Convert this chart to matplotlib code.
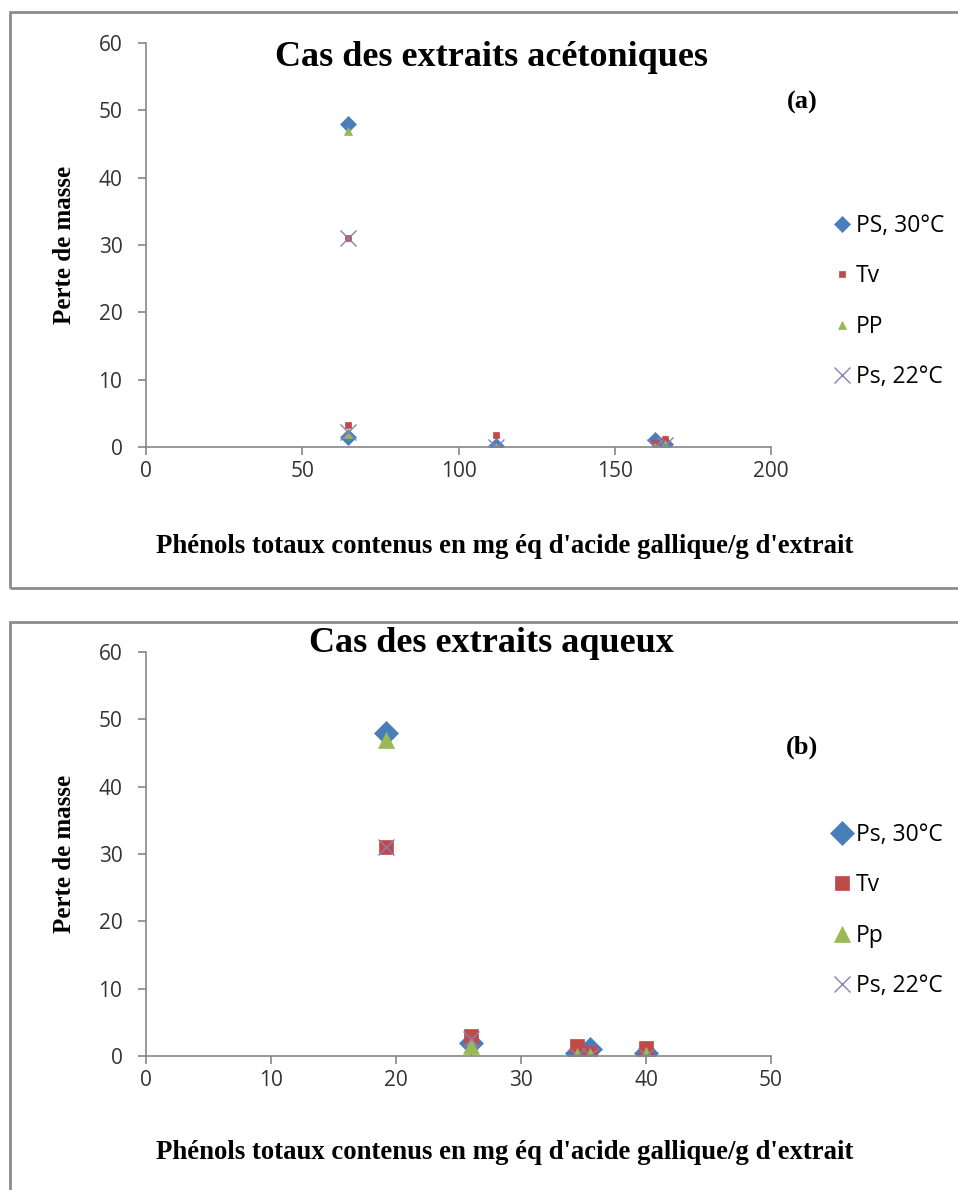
import matplotlib.pyplot as plt
from matplotlib.patches import Rectangle

# Panel (a): acetone extracts
x_a = [64.5, 64.5, 112, 163, 166]
ps30_a = [48, 1.5, 0.2, 1.0, 0.5]
tv_a = [31, 3.2, 1.8, 0.6, 1.2]
pp_a = [47, 2.0, 0.0, 0.0, 0.5]
ps22_a = [31, 2.2, 0.0, 0.0, 0.3]
labels_a = ["PS, 30°C", "Tv", "PP", "Ps, 22°C"]

# Panel (b): aqueous extracts
x_b = [19.2, 26, 34.5, 35.5, 40]
ps30_b = [48, 2.0, 0.5, 1.0, 0.5]
tv_b = [31, 3.0, 1.5, 0.5, 1.2]
pp_b = [47, 1.5, 0.0, 0.0, 0.2]
ps22_b = [31, 2.5, 0.0, 0.0, 0.0]
labels_b = ["Ps, 30°C", "Tv", "Pp", "Ps, 22°C"]

xlabel = "Phénols totaux contenus en mg éq d'acide gallique/g d'extrait"
serif = ["Times New Roman", "Liberation Serif", "DejaVu Serif"]
sans = ["Open Sans", "DejaVu Sans"]

colors = ["#4a7ebb", "#be4b48", "#98b954", "#8a7fb5"]
markers = ["D", "s", "^", "x"]

fig = plt.figure(figsize=(9.58, 11.9), dpi=100)
W, H = 958, 1190

# outer frames around each chart
for top, bottom in [(12, 588), (622, 1200)]:
    fig.patches.append(Rectangle((10 / W, 1 - bottom / H), 1.0, (bottom - top) / H,
                                 transform=fig.transFigure, fill=False,
                                 edgecolor="#8c8c8c", linewidth=2.0))


def draw_panel(ax, x, series, labels, xmax, xstep, title, tag, small,
               title_y, tag_y, xlab_y):
    msizes = [8, 5, 6, 11] if small else [12, 10, 12, 12]
    for ys, lab, c, m, ms in zip(series, labels, colors, markers, msizes):
        ax.plot(x, ys, linestyle="none", marker=m, color=c, markersize=ms,
                markeredgewidth=1.0 if m == "x" else 0.5, label=lab)
    ax.set_xlim(0, xmax)
    ax.set_ylim(0, 60)
    ax.set_xticks(range(0, xmax + 1, xstep))
    ax.set_yticks(range(0, 61, 10))
    for s in ["top", "right"]:
        ax.spines[s].set_visible(False)
    for s in ["left", "bottom"]:
        ax.spines[s].set_color("#868686")
        ax.spines[s].set_linewidth(1.2)
    ax.tick_params(colors="#868686", labelcolor="#333333", length=6, width=1.2,
                   labelsize=15)
    ax.tick_params(axis="x", pad=4)
    ax.tick_params(axis="y", pad=11)
    for t in ax.get_xticklabels() + ax.get_yticklabels():
        t.set_family(sans)
    ax.set_xlabel(xlabel, family=serif, fontweight="bold", fontsize=19.3)
    ax.xaxis.set_label_coords(0.574, xlab_y)
    ax.set_ylabel("Perte de masse", family=serif, fontweight="bold", fontsize=18,
                  labelpad=16)
    ax.text(0.552, title_y, title, transform=ax.transAxes, ha="center", va="center",
            family=serif, fontweight="bold", fontsize=26)
    ax.text(1.05, tag_y, tag, transform=ax.transAxes, ha="center", va="center",
            family=serif, fontweight="bold", fontsize=19)
    ax.legend(loc="center left", bbox_to_anchor=(1.07, 0.36), frameon=False,
              prop={"family": sans, "size": 16.5}, labelspacing=1.15,
              handlelength=0.6, handletextpad=0.3, markerscale=1.0)


ax1 = fig.add_axes([146 / W, 1 - 447 / H, 625 / W, 404 / H])
draw_panel(ax1, x_a, [ps30_a, tv_a, pp_a, ps22_a], labels_a, 200, 50,
           "Cas des extraits acétoniques", "(a)", True, 0.965, 0.854, -0.216)

ax2 = fig.add_axes([146 / W, 1 - 1056 / H, 625 / W, 404 / H])
draw_panel(ax2, x_b, [ps30_b, tv_b, pp_b, ps22_b], labels_b, 50, 10,
           "Cas des extraits aqueux", "(b)", False, 1.02, 0.765, -0.208)

fig.savefig("out.png", dpi=100)
